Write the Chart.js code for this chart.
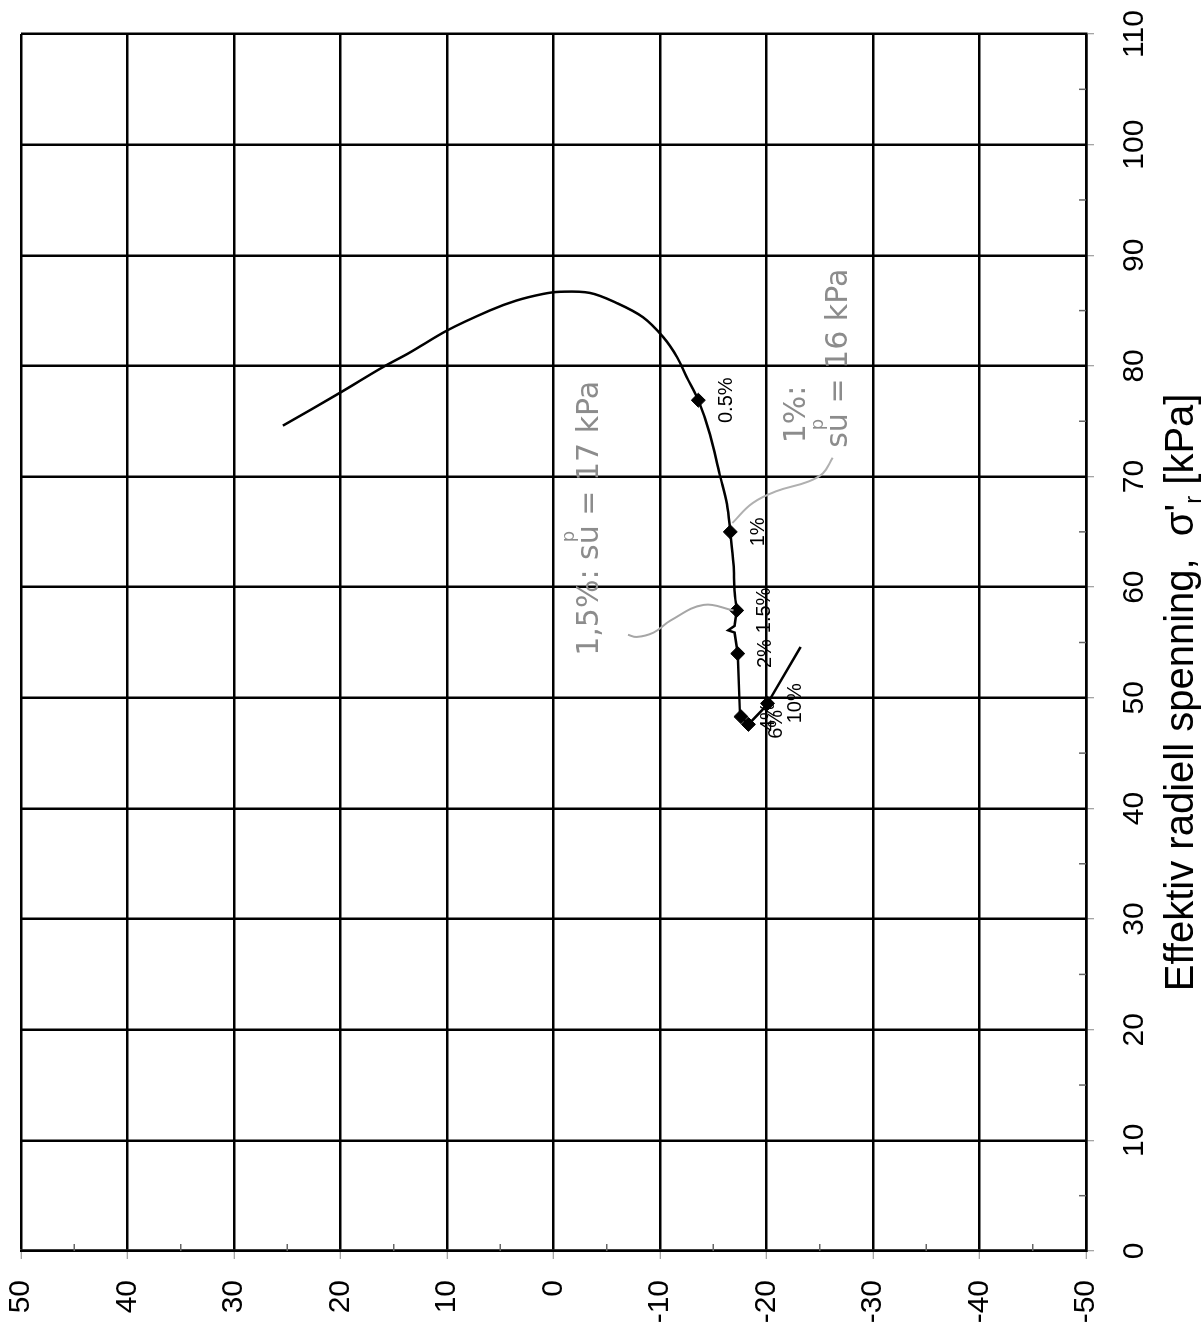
<!DOCTYPE html>
<html>
<head>
<meta charset="utf-8">
<script src="https://cdn.jsdelivr.net/npm/chart.js@4.4.1/dist/chart.umd.min.js"></script>
<style>
  html, body { margin: 0; padding: 0; background: #fff; overflow: hidden; }
  /* the sheet is scanned sideways, so the whole chart is turned a quarter left */
  #wrap {
    position: absolute; left: 0; top: 0;
    width: 1323px; height: 1201px;
    transform-origin: 0 0;
    transform: translateY(1323px) rotate(-90deg);
  }
</style>
</head>
<body>
<div id="wrap"><canvas id="chart" width="1323" height="1201"></canvas></div>
<script>
// effective radial stress sigma'r [kPa] (x) vs shear stress [kPa] (y)
const pathSigma = [74.6, 77.6, 79.9, 81.2, 83.2, 85.0, 85.9, 86.5, 86.7, 86.6, 85.7, 84.4, 82.6, 80.8, 79.0, 76.9, 73.8, 70.2, 67.5, 65.0, 62.1, 59.7, 57.9];
const pathTau   = [25.4, 20.0, 16.0, 13.5, 10.0,  6.0,  3.5,  1.0, -0.6, -3.4, -5.9, -8.4, -10.3, -11.6, -12.5, -13.6, -14.7, -15.6, -16.3, -16.6, -16.9, -17.0, -17.2];

const tailSigma = [57.9, 56.5, 56.1, 55.9, 54.0, 48.7, 48.3, 47.6, 48.9, 49.5, 54.6];
const tailTau   = [-17.2, -17.0, -16.4, -17.0, -17.3, -17.5, -17.6, -18.3, -19.6, -20.1, -23.2];

const markerSigma  = [76.9, 65.0, 57.9, 54.0, 48.3, 47.6, 49.5];
const markerTau    = [-13.6, -16.6, -17.2, -17.3, -17.6, -18.3, -20.1];
const markerLabels = ['0.5%', '1%', '1.5%', '2%', '4%', '6%', '10%'];

// grey pencil leaders from the hand notes to the points
const leader15Sigma = [57.9, 58.4, 57.0, 55.9, 55.5, 55.7];
const leader15Tau   = [-16.9, -14.1, -11.0, -9.4, -7.8, -7.0];
const leader1Sigma  = [65.8, 67.6, 68.7, 69.5, 70.3, 71.7];
const leader1Tau    = [-16.8, -18.7, -21.0, -23.8, -25.3, -26.2];

const SIGMA_MIN = 0, SIGMA_MAX = 110, TAU_MIN = -50, TAU_MAX = 50, STEP = 10;

const FONT = '"Liberation Sans", Arial, sans-serif';
const NOTE_FONT = '"DejaVu Sans", sans-serif';
const NOTE_GREY = '#8c8c8c';

const toXY = (xs, ys) => xs.map((x, i) => ({ x: x, y: ys[i] }));

function line(ctx, x1, y1, x2, y2) {
  ctx.beginPath(); ctx.moveTo(x1, y1); ctx.lineTo(x2, y2); ctx.stroke();
}

// short inward ticks half way between the grid lines
const minorTicks = {
  id: 'minorTicks',
  afterDraw(chart) {
    const { ctx, chartArea: a, scales: { x, y } } = chart;
    ctx.save();
    ctx.strokeStyle = '#666';
    ctx.lineWidth = 1.5;
    for (let v = SIGMA_MIN + STEP / 2; v < SIGMA_MAX; v += STEP) {
      const px = x.getPixelForValue(v);
      line(ctx, px, a.bottom, px, a.bottom - 7);
    }
    for (let v = TAU_MIN + STEP / 2; v < TAU_MAX; v += STEP) {
      const py = y.getPixelForValue(v);
      line(ctx, a.left, py, a.left + 7, py);
    }
    ctx.restore();
  }
};

const pointLabels = {
  id: 'pointLabels',
  afterDatasetsDraw(chart) {
    const ctx = chart.ctx;
    const meta = chart.getDatasetMeta(4);
    ctx.save();
    ctx.font = '20px ' + FONT;
    ctx.fillStyle = '#000';
    ctx.textAlign = 'center';
    ctx.textBaseline = 'middle';
    meta.data.forEach((pt, i) => ctx.fillText(markerLabels[i], pt.x, pt.y + 28));
    ctx.restore();
  }
};

// text run with a small "p" written over the previous piece
function drawRun(ctx, x, y, parts, size) {
  let prevX = x;
  for (const p of parts) {
    ctx.font = (p.small ? Math.round(size * 0.6) : size) + 'px ' + (p.font || NOTE_FONT);
    const w = ctx.measureText(p.t).width;
    if (p.above) { ctx.fillText(p.t, prevX + 2, y + p.dy); continue; }
    ctx.fillText(p.t, x, y + (p.dy || 0));
    prevX = x;
    x += w;
  }
  return x;
}

function runWidth(ctx, parts, size, family) {
  let w = 0;
  for (const p of parts) {
    if (p.above) continue;
    ctx.font = (p.small ? Math.round(size * 0.6) : size) + 'px ' + family;
    w += ctx.measureText(p.t).width;
  }
  return w;
}

const handNotes = {
  id: 'handNotes',
  afterDatasetsDraw(chart) {
    const { ctx, scales: { x, y } } = chart;
    ctx.save();
    ctx.fillStyle = NOTE_GREY;
    ctx.textBaseline = 'alphabetic';
    ctx.textAlign = 'left';
    drawRun(ctx, x.getPixelForValue(53.8), y.getPixelForValue(-4.2), [
      { t: '1,5%: s' }, { t: 'u' }, { t: 'p', small: true, above: true, dy: -24 }, { t: ' = 17 kPa' }
    ], 30);
    drawRun(ctx, x.getPixelForValue(73.0), y.getPixelForValue(-23.6), [{ t: '1%:' }], 30);
    drawRun(ctx, x.getPixelForValue(72.6), y.getPixelForValue(-27.6), [
      { t: 's' }, { t: 'u' }, { t: 'p', small: true, above: true, dy: -24 }, { t: ' = 16 kPa' }
    ], 30);
    ctx.restore();
  }
};

const xTitle = {
  id: 'xTitle',
  afterDraw(chart) {
    const { ctx, chartArea: a } = chart;
    const parts = [
      { t: 'Effektiv radiell spenning,  \u03c3\'', font: FONT },
      { t: 'r', small: true, dy: 8, font: FONT },
      { t: ' [kPa]', font: FONT }
    ];
    const size = 40;
    const w = runWidth(ctx, parts, size, FONT);
    const cx = a.left + (a.right - a.left) * 0.459;
    ctx.save();
    ctx.fillStyle = '#000';
    ctx.textBaseline = 'alphabetic';
    ctx.textAlign = 'left';
    drawRun(ctx, cx - w / 2, chart.height - 8, parts, size);
    ctx.restore();
  }
};

const axisGrid = {
  color: '#000',
  lineWidth: 2.5,
  tickLength: 8,
  tickColor: '#888',
  tickWidth: 1
};

new Chart(document.getElementById('chart'), {
  type: 'scatter',
  data: {
    datasets: [
      { data: toXY(pathSigma, pathTau), showLine: true, borderColor: '#000', borderWidth: 2.5, pointRadius: 0, tension: 0.35 },
      { data: toXY(tailSigma, tailTau), showLine: true, borderColor: '#000', borderWidth: 2.5, pointRadius: 0, tension: 0 },
      { data: toXY(leader15Sigma, leader15Tau), showLine: true, borderColor: '#a6a6a6', borderWidth: 2, pointRadius: 0, tension: 0.4 },
      { data: toXY(leader1Sigma, leader1Tau), showLine: true, borderColor: '#b0b0b0', borderWidth: 2, pointRadius: 0, tension: 0.4 },
      { data: toXY(markerSigma, markerTau), showLine: false, pointStyle: 'rectRot', pointRadius: 7, backgroundColor: '#000', borderColor: '#000', borderWidth: 1 }
    ]
  },
  options: {
    responsive: false,
    animation: false,
    devicePixelRatio: 1,
    events: [],
    layout: { padding: { top: 21, right: 34, left: 0, bottom: 0 } },
    plugins: { legend: { display: false }, tooltip: { enabled: false } },
    scales: {
      x: {
        type: 'linear', position: 'bottom', min: SIGMA_MIN, max: SIGMA_MAX,
        ticks: { stepSize: STEP, color: '#000', font: { family: FONT, size: 30 }, padding: 23, maxRotation: 0, autoSkip: false },
        grid: axisGrid,
        border: { color: '#000', width: 2.5 },
        afterFit(s) { s.height = 115; s.paddingLeft = 0; s.paddingRight = 0; }
      },
      y: {
        type: 'linear', position: 'left', min: TAU_MIN, max: TAU_MAX,
        ticks: { stepSize: STEP, color: '#000', font: { family: FONT, size: 30 }, padding: 21, autoSkip: false },
        grid: axisGrid,
        border: { color: '#000', width: 2.5 },
        afterFit(s) { s.width = 72; s.paddingTop = 0; s.paddingBottom = 0; }
      }
    }
  },
  plugins: [minorTicks, pointLabels, handNotes, xTitle]
});
</script>
</body>
</html>
